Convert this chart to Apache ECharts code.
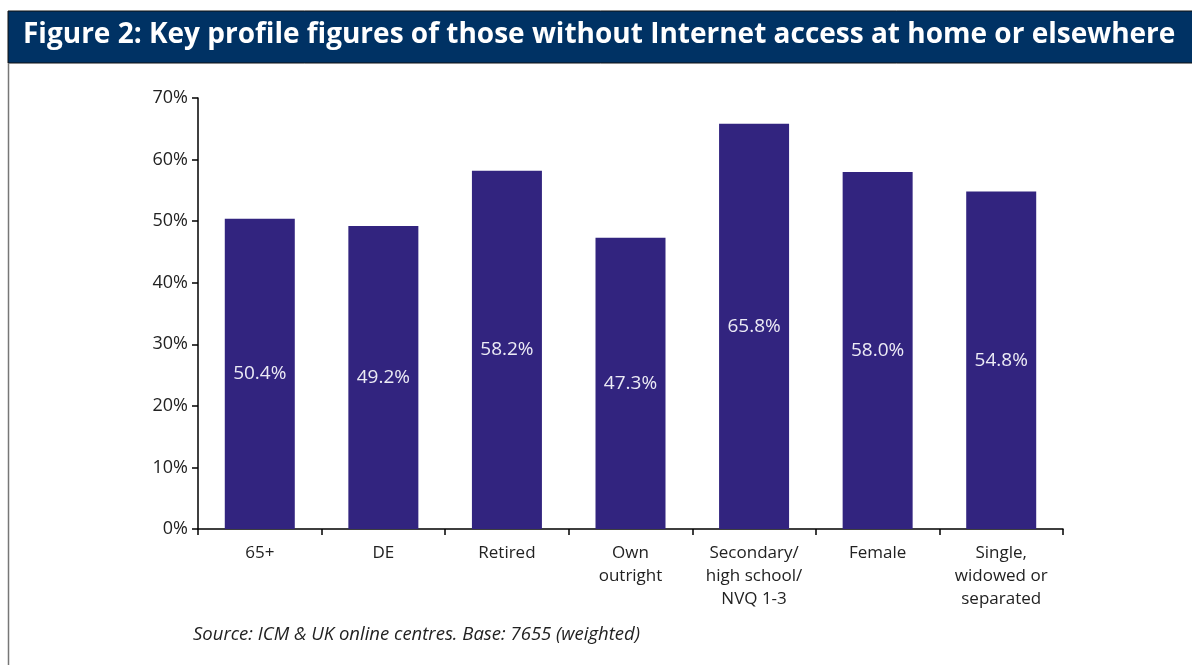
<!DOCTYPE html>
<html><head><meta charset="utf-8">
<script src="https://cdn.jsdelivr.net/npm/echarts@6/dist/echarts.min.js"></script>
<style>html,body{margin:0;padding:0;background:#fff}#c{width:1192px;height:665px}</style>
</head><body><div id="c"></div>
<script>
const categories = ['65+', 'DE', 'Retired', 'Own\noutright', 'Secondary/\nhigh school/\nNVQ 1-3', 'Female', 'Single,\nwidowed or\nseparated'];
const values = [50.4, 49.2, 58.2, 47.3, 65.8, 58.0, 54.8];
const yTicks = [0, 10, 20, 30, 40, 50, 60, 70];
const titleText = 'Figure 2: Key profile figures of those without Internet access at home or elsewhere';
const sourceText = 'Source: ICM & UK online centres. Base: 7655 (weighted)';

const chart = echarts.init(document.getElementById('c'));
chart.setOption({
  animation: false,
  backgroundColor: '#fff',
  grid: { left: 198, top: 98, right: 129, bottom: 136, containLabel: false },
  graphic: [
    { type: 'rect', shape: { x: 8, y: 11, width: 1190, height: 52 }, style: { fill: '#003264', stroke: '#111', lineWidth: 1 } },
    { type: 'line', shape: { x1: 8.5, y1: 63, x2: 8.5, y2: 665 }, style: { stroke: '#777', lineWidth: 1.5 } },
    { type: 'text', left: 23, top: 21, style: { text: titleText, fill: '#fff', font: 'bold 28px "Open Sans", sans-serif' } },
    { type: 'text', left: 193, top: 625, style: { text: sourceText, fill: '#222', font: 'italic 18.5px "Open Sans", sans-serif' } }
  ],
  xAxis: {
    type: 'category', data: categories,
    axisLine: { lineStyle: { color: '#000', width: 1.5 } },
    axisTick: { show: true, length: 6, lineStyle: { color: '#000', width: 1.5 } },
    axisLabel: { color: '#222', fontSize: 17, fontFamily: 'Open Sans', lineHeight: 23, margin: 13, interval: 0 }
  },
  yAxis: {
    type: 'value', min: 0, max: 70, interval: 10,
    axisLine: { show: true, lineStyle: { color: '#000', width: 1.5 } },
    axisTick: { show: true, length: 6, lineStyle: { color: '#000', width: 1.5 } },
    splitLine: { show: false },
    axisLabel: { color: '#222', fontSize: 18, fontFamily: 'Open Sans', margin: 10,
      formatter: v => yTicks.includes(v) ? v + '%' : '' }
  },
  series: [{
    type: 'bar', data: values, barWidth: 70,
    itemStyle: { color: '#32247f' },
    label: { show: true, position: 'inside', color: '#ecebf5', fontSize: 19, fontFamily: 'Open Sans',
      formatter: p => p.value.toFixed(1) + '%' }
  }]
});
</script></body></html>
